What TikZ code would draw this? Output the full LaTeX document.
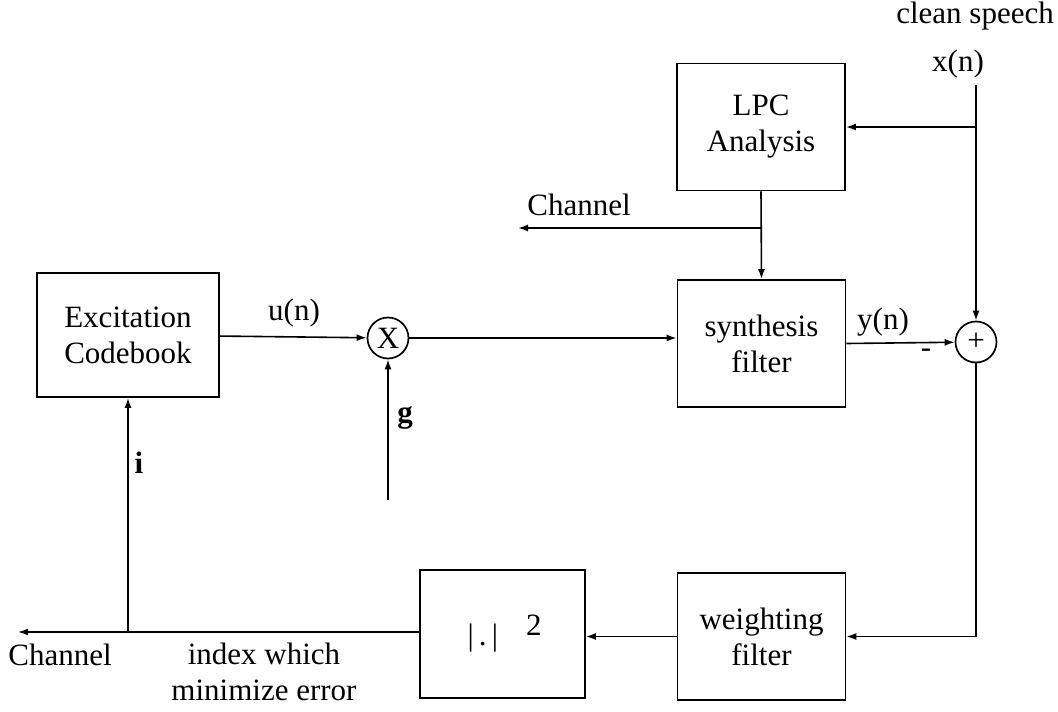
\documentclass[tikz,border=0pt]{standalone}
\usepackage{fontspec}
\setmainfont{Liberation Serif}
\usetikzlibrary{arrows.meta}

\tikzset{
  block/.style={draw, line width=1.8pt, inner sep=0pt, align=center,
    minimum width=168pt, minimum height=127pt},
  junction/.style={draw, circle, line width=1.7pt, inner sep=0pt, minimum size=41pt},
  lbl/.style={inner sep=0pt, align=center},
  arr/.style={line width=1.6pt, -{Latex[length=10pt,width=7pt]}},
  wire/.style={line width=1.6pt}
}

\begin{document}
\begin{tikzpicture}[x=1pt, y=-1pt, font=\fontsize{31}{36}\selectfont]
\useasboundingbox (0,0) rectangle (1058,712);

% blocks
\node[block, minimum width=182pt, minimum height=124pt] (cb) at (128,335) {Excitation\\Codebook};
\node[block] (lpc) at (761,127) {LPC\\Analysis};
\node[block] (syn) at (761.5,343.5) {synthesis\\filter};
\node[block] (wf) at (761.5,636.5) {weighting\\filter};
\node[block, minimum width=165pt, minimum height=128pt] (norm) at (502.5,634)
  {\hspace*{4pt}|\,.\,|\hspace{28pt}\raisebox{10pt}{2}};

% multiplier and summing junction
\node[junction] (mul) at (388,338) {X};
\node[junction] (sum) at (976,342) {+};

% free ends of the connectors
\coordinate (xin) at (976,85);
\coordinate (ch1) at (518,228);
\coordinate (ch2) at (18,632);
\coordinate (gin) at (388,500);

% forward path
\draw[arr] (cb) -- (mul);
\draw[arr] (mul) -- (mul -| syn.west);
\draw[arr] (syn.east) -- (sum);
\draw[arr] (xin) -- (sum.north);
\draw[arr] (lpc.east -| xin) -- (lpc.east);
\draw[arr] (lpc.south) -- (syn.north);
\draw[arr] (lpc.south |- ch1) -- (ch1);
\draw[arr] (gin) -- (mul.south);

% error feedback path
\draw[arr] (sum.south) |- (wf.east);
\draw[arr] (wf.west) -- (wf.west -| norm.east);
\draw[arr] (norm.west |- ch2) -- (ch2);
\draw[arr] (cb.south |- ch2) -- (cb.south);

% labels
\node[lbl, anchor=east] (clean) at (1054,16) {clean speech};
\node[lbl] (xn) at (958,64) {x(n)};
\node[lbl] (un) at (294,313) {u(n)};
\node[lbl] (yn) at (883,322) {y(n)};
\node[lbl] (minus) at (926,353) {-};
\node[lbl] (chtop) at (579,205) {Channel};
\node[lbl] (g) at (405,418) {\textbf{g}};
\node[lbl] (i) at (139,463) {\textbf{i}};
\node[lbl] (chbot) at (60,655) {Channel};
\node[lbl, align=center] (idx) at (264,672) {index which\\minimize error};
\end{tikzpicture}
\end{document}
